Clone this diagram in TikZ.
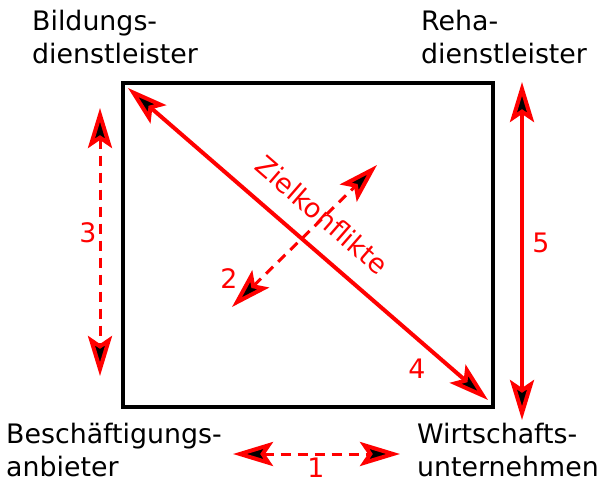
\documentclass[tikz,border=0pt]{standalone}
\usepackage{fontspec}
\setmainfont{DejaVu Sans}
\usetikzlibrary{arrows.meta}
\begin{document}
\begin{tikzpicture}[x=1pt,y=-1pt,
  lbl/.style={anchor=north west, inner sep=0pt, align=left, font=\fontsize{26.8}{33}\selectfont},
  num/.style={text=red, inner sep=0pt, font=\fontsize{26.8}{33}\selectfont},
  >={Stealth[length=40pt,width=24pt,inset=8pt,fill=black,line width=4pt]},
  solidarr/.style={draw=red, line width=4pt, <->},
  dasharr/.style={draw=red, line width=3pt, dash pattern=on 10pt off 7pt, <->},
  frame/.style={draw=black, line width=4pt}]
\useasboundingbox (0,0) rectangle (601,481);
% frame
\coordinate (tl) at (123,83);
\coordinate (br) at (493,407);
\draw[frame] (tl) rectangle (br);
% labels
\node[lbl] (bild) at (32,10) {Bildungs-\\dienstleister};
\node[lbl] (reha) at (421,10) {Reha-\\dienstleister};
\node[lbl] (besch) at (6,423) {Beschäftigungs-\\anbieter};
\node[lbl] (wirt) at (417,423) {Wirtschafts-\\unternehmen};
% arrow end points
\coordinate (d1a) at (128,88);  \coordinate (d1b) at (488,400);
\coordinate (v5a) at (522,82);  \coordinate (v5b) at (522,420);
\coordinate (v3a) at (100,108); \coordinate (v3b) at (100,376);
\coordinate (h1a) at (233,454); \coordinate (h1b) at (400,454);
\coordinate (d2a) at (232,307); \coordinate (d2b) at (377,165);
% arrows
\draw[solidarr] (d1a) -- (d1b);
\draw[solidarr] (v5a) -- (v5b);
\draw[dasharr] (v3a) -- (v3b);
\draw[dasharr] (h1a) -- (h1b);
\draw[dasharr] (d2a) -- (d2b);
% numbers
\node[num] (n1) at (316,468) {1};
\node[num] (n2) at (229,279) {2};
\node[num] (n3) at (88,233) {3};
\node[num] (n4) at (417,369) {4};
\node[num] (n5) at (541,243) {5};
\node[num, rotate=-41] (ziel) at (322,215) {Zielkonflikte};
\end{tikzpicture}
\end{document}
